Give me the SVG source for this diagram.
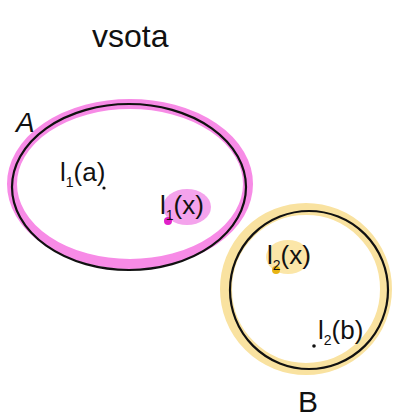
<svg xmlns="http://www.w3.org/2000/svg" width="394" height="417" viewBox="0 0 394 417">
<style>
.t{font-family:"Liberation Sans","DejaVu Sans",sans-serif;fill:#111;}
.edge{fill:none;stroke:#111;stroke-width:2.2;stroke-linecap:round;}
</style>
<rect width="394" height="417" fill="#fff"/>
<text class="t" x="92" y="47" font-size="32">vsota</text>
<g id="A">
<ellipse cx="130" cy="184" rx="118" ry="80" fill="none" stroke="#f78be6" stroke-width="10"/>
<ellipse cx="129" cy="187" rx="117" ry="83" class="edge" fill="#fff"/>
<text class="t" x="16" y="132" font-size="28" font-style="italic">A</text>
<text class="t" x="60" y="181" font-size="26">l<tspan font-size="14" dy="6">1</tspan><tspan dy="-6">(a)</tspan></text>
<circle cx="104" cy="188" r="1.6" fill="#111"/>
<ellipse cx="187" cy="207" rx="24" ry="18" fill="#f4a3ec"/>
<circle cx="168" cy="221" r="4" fill="#e020c8"/>
<text class="t" x="160" y="214" font-size="26">l<tspan font-size="14" dy="6">1</tspan><tspan dy="-6">(x)</tspan></text>
</g>
<g id="B">
<circle cx="306" cy="289" r="80" fill="none" stroke="#f9e2a0" stroke-width="12"/>
<circle cx="309" cy="290" r="79" class="edge" fill="#fff"/>
<ellipse cx="288" cy="257" rx="22" ry="17" fill="#fbe6a8"/>
<circle cx="276" cy="270" r="4" fill="#e8b414"/>
<text class="t" x="267" y="264" font-size="26">l<tspan font-size="14" dy="6">2</tspan><tspan dy="-6">(x)</tspan></text>
<text class="t" x="318" y="339" font-size="26">l<tspan font-size="14" dy="6">2</tspan><tspan dy="-6">(b)</tspan></text>
<circle cx="314" cy="346" r="1.8" fill="#111"/>
<text class="t" x="298" y="412" font-size="30">B</text>
</g>
<g id="connectors"></g>
</svg>
